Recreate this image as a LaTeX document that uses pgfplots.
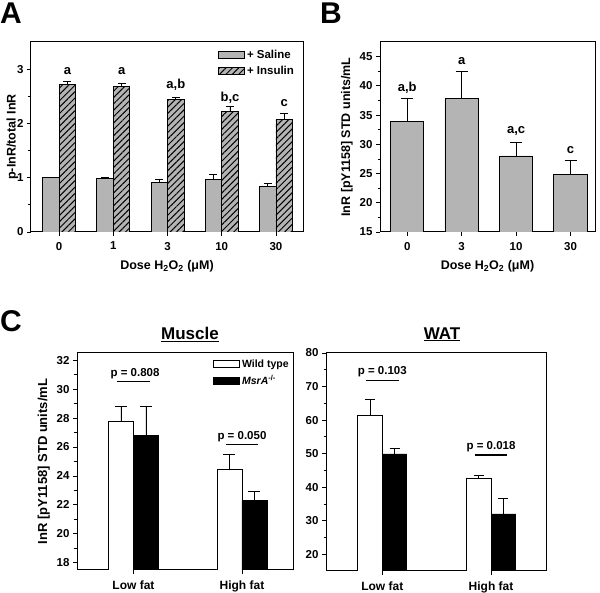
\documentclass[border=0pt]{standalone}
\usepackage{fontspec}
\setmainfont{Liberation Sans}
\usepackage{pgfplots}
\pgfplotsset{compat=1.18}
\usetikzlibrary{patterns.meta}
\definecolor{bargray}{RGB}{180,180,180}

\pgfplotsset{
  panel/.style={
    scale only axis,
    anchor=south west,
    axis line style={line width=1pt},
    tick align=outside,
    xtick pos=left, ytick pos=left,
    major tick length=4pt, minor tick length=2.5pt,
    every tick/.style={black,line width=0.8pt},
    minor y tick num=1,
    /pgf/number format/assume math mode=true,
    tick label style={font=\fontsize{11.5}{13}\selectfont\bfseries},
    xticklabel style={yshift=-2.5pt},
    label style={font=\fontsize{12.5}{14}\selectfont\bfseries},
    xlabel shift=3.5pt,
    ybar,
    error bars/y dir=plus, error bars/y explicit,
    error bars/error bar style={line width=0.8pt,black},
    error bars/error mark options={rotate=90, mark size=4pt, line width=0.8pt, black},
    legend image code/.code={\draw[##1] (0pt,-3.5pt) rectangle (26pt,3.5pt);},
    legend style={draw=none, fill=none, font=\fontsize{11.5}{13}\selectfont\bfseries, inner sep=0pt, row sep=2pt, cells={anchor=west}},
  },
  salinestyle/.style={fill=bargray, draw=black, line width=0.8pt},
  insulinstyle/.style={fill=bargray, draw=black, line width=0.8pt, postaction={pattern={Lines[angle=45,distance=4.5pt,line width=1pt]}}},
}

\pgfplotstableread{
x y e
0 1.00 0.00
1 0.99 0.02
2 0.92 0.05
3 0.96 0.10
4 0.84 0.06
}\saline
\pgfplotstableread{
x y e
0 2.71 0.07
1 2.68 0.05
2 2.44 0.04
3 2.22 0.10
4 2.07 0.12
}\insulin
\pgfplotstableread{
x y e
0 33.9 3.9
1 37.8 4.6
2 28.0 2.3
3 24.9 2.3
}\panelB
\pgfplotstableread{
x y e
0 27.8 1.0
1 24.45 1.05
}\muscleWT
\pgfplotstableread{
x y e
0 26.8 2.0
1 22.3 0.63
}\muscleKO
\pgfplotstableread{
x y e
0 61.3 4.8
1 42.6 0.9
}\watWT
\pgfplotstableread{
x y e
0 49.9 1.6
1 32.0 4.75
}\watKO

\begin{document}
\begin{tikzpicture}
\path[use as bounding box] (0pt,0pt) rectangle (600pt,593pt);

% Panel A
\begin{axis}[panel, at={(31pt,361pt)}, width=272pt, height=190pt,
  xmin=-0.52, xmax=4.5, ymin=0, ymax=3.5, ytick={0,1,2,3},
  xtick={0,1,2,3,4}, xticklabels={0,1,3,10,30}, bar width=16.5pt,
  ylabel={p-InR/total InR}, ylabel shift=-8pt,
  xlabel={Dose H\textsubscript{2}O\textsubscript{2} (μM)},
  legend style={at={(0.6875,0.97)}, anchor=north west}]
\addplot[salinestyle, bar shift=-8.25pt] table[x=x,y=y,y error=e] {\saline};
\addlegendentry{+ Saline}
\addplot[insulinstyle, bar shift=8.25pt] table[x=x,y=y,y error=e] {\insulin};
\addlegendentry{+ Insulin}
\begin{scope}[every node/.style={font=\fontsize{13}{15}\selectfont\bfseries, anchor=base}]
\node at (axis cs:0.153,2.90) {a};
\node at (axis cs:1.153,2.90) {a};
\node at (axis cs:2.153,2.65) {a,b};
\node at (axis cs:3.153,2.41) {b,c};
\node at (axis cs:4.153,2.31) {c};
\end{scope}
\end{axis}

% Panel B
\begin{axis}[panel, at={(380pt,361pt)}, width=215pt, height=190pt,
  xmin=-0.5, xmax=3.45, ymin=15, ymax=47.5, ytick={15,20,...,45},
  xtick={0,1,2,3}, xticklabels={0,3,10,30}, bar width=33.3pt,
  error bars/error mark options={rotate=90, mark size=6pt, line width=0.8pt, black},
  ylabel={InR [pY1158] STD units/mL},
  xlabel={Dose H\textsubscript{2}O\textsubscript{2} (μM)}]
\addplot[salinestyle, bar shift=0pt] table[x=x,y=y,y error=e] {\panelB};
\begin{scope}[every node/.style={font=\fontsize{13}{15}\selectfont\bfseries, anchor=base}]
\node at (axis cs:0,39.07) {a,b};
\node at (axis cs:1,43.6) {a};
\node at (axis cs:2,31.8) {a,c};
\node at (axis cs:3,28.5) {c};
\end{scope}
\end{axis}

% Panel C - Muscle
\begin{axis}[panel, at={(77pt,23pt)}, width=216pt, height=217pt,
  xmin=-0.52, xmax=1.47, ymin=17.5, ymax=32.5, ytick={18,20,...,32},
  xtick={0,1}, xticklabels={Low fat,High fat}, bar width=25pt,
  xticklabel style={font=\fontsize{12}{14}\selectfont\bfseries, yshift=-0.5pt},
  error bars/error mark options={rotate=90, mark size=6pt, line width=0.8pt, black},
  ylabel={InR [pY1158] STD units/mL},
  label style={font=\fontsize{13}{15}\selectfont\bfseries},
  legend style={at={(0.63,0.98)}, anchor=north west, font=\fontsize{10.5}{12.5}\selectfont\bfseries, row sep=3pt}]
\addplot[fill=white, draw=black, line width=0.8pt, bar shift=-12.5pt] table[x=x,y=y,y error=e] {\muscleWT};
\addlegendentry{Wild type}
\addplot[fill=black, draw=black, line width=0.8pt, bar shift=12.5pt] table[x=x,y=y,y error=e] {\muscleKO};
\addlegendentry{\textit{MsrA}\textsuperscript{-/-}}
\draw[line width=1.1pt] (axis cs:-0.153,30.55) -- (axis cs:0.153,30.55);
\draw[line width=1.1pt] (axis cs:0.855,26.18) -- (axis cs:1.145,26.18);
\begin{scope}[every node/.style={font=\fontsize{11.5}{13}\selectfont\bfseries, anchor=base}]
\node at (axis cs:0.015,30.85) {p = 0.808};
\node at (axis cs:1.0,26.52) {p = 0.050};
\end{scope}
\end{axis}

% Panel C - WAT
\begin{axis}[panel, at={(326pt,22pt)}, width=220pt, height=218pt,
  xmin=-0.518, xmax=1.506, ymin=15, ymax=80, ytick={20,30,...,80},
  xtick={0,1}, xticklabels={Low fat,High fat}, bar width=24.5pt,
  xticklabel style={font=\fontsize{12}{14}\selectfont\bfseries, yshift=-0.5pt},
  error bars/error mark options={rotate=90, mark size=5pt, line width=0.8pt, black}]
\addplot[fill=white, draw=black, line width=0.8pt, bar shift=-12.25pt] table[x=x,y=y,y error=e] {\watWT};
\addplot[fill=black, draw=black, line width=0.8pt, bar shift=12.25pt] table[x=x,y=y,y error=e] {\watKO};
\draw[line width=1.1pt] (axis cs:-0.15,71.8) -- (axis cs:0.156,71.8);
\draw[line width=1.1pt] (axis cs:0.85,49.6) -- (axis cs:1.15,49.6);
\begin{scope}[every node/.style={font=\fontsize{11.5}{13}\selectfont\bfseries, anchor=base}]
\node at (axis cs:0.0,73.6) {p = 0.103};
\node at (axis cs:1.0,51.2) {p = 0.018};
\end{scope}
\end{axis}

% panel letters and titles
\node[font=\fontsize{30}{30}\selectfont\bfseries, anchor=north west, inner sep=0pt] at (0pt,590pt) {A};
\node[font=\fontsize{30}{30}\selectfont\bfseries, anchor=north west, inner sep=0pt] at (320pt,590pt) {B};
\node[font=\fontsize{30}{30}\selectfont\bfseries, anchor=north west, inner sep=0pt] at (0pt,283pt) {C};
\node[font=\fontsize{17}{19}\selectfont\bfseries, anchor=base] at (190pt,253.7pt) {\underline{Muscle}};
\node[font=\fontsize{17}{19}\selectfont\bfseries, anchor=base] at (442pt,253.7pt) {\underline{WAT}};
\end{tikzpicture}
\end{document}
